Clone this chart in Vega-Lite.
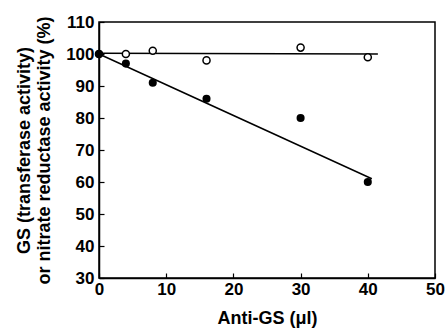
{
  "$schema": "https://vega.github.io/schema/vega-lite/v6.json",
  "autosize": "none",
  "width": 336,
  "height": 256,
  "padding": {"left": 99, "top": 22, "right": 13, "bottom": 52},
  "background": "white",
  "config": {
    "font": "Liberation Sans",
    "view": {"stroke": "black", "strokeWidth": 1.5}
  },
  "data": {
    "values": [
      {"x": 0, "y": 100, "s": "open", "k": "pt"},
      {"x": 4, "y": 100, "s": "open", "k": "pt"},
      {"x": 8, "y": 101, "s": "open", "k": "pt"},
      {"x": 16, "y": 98, "s": "open", "k": "pt"},
      {"x": 30, "y": 102, "s": "open", "k": "pt"},
      {"x": 40, "y": 99, "s": "open", "k": "pt"},
      {"x": 0, "y": 100, "s": "filled", "k": "pt"},
      {"x": 4, "y": 97, "s": "filled", "k": "pt"},
      {"x": 8, "y": 91, "s": "filled", "k": "pt"},
      {"x": 16, "y": 86, "s": "filled", "k": "pt"},
      {"x": 30, "y": 80, "s": "filled", "k": "pt"},
      {"x": 40, "y": 60, "s": "filled", "k": "pt"},
      {"x": 0, "y": 100.2, "s": "open", "k": "fit"},
      {"x": 41.5, "y": 100, "s": "open", "k": "fit"},
      {"x": 0, "y": 100, "s": "filled", "k": "fit"},
      {"x": 40.6, "y": 61, "s": "filled", "k": "fit"}
    ]
  },
  "encoding": {
    "x": {"field": "x", "type": "quantitative", "scale": {"domain": [0, 50], "nice": false},
          "axis": {"values": [0, 10, 20, 30, 40, 50], "title": "Anti-GS (μl)",
                   "labelOverlap": false, "labelFlush": false, "labelPadding": 8, "titlePadding": 12,
                   "domainColor": "black", "domainWidth": 1.5, "tickColor": "black", "tickWidth": 1.2, "tickSize": -5, "grid": false,
                   "labelFont": "Liberation Sans", "labelFontWeight": "bold", "labelFontSize": 17, "labelColor": "black",
                   "titleFont": "Liberation Sans", "titleFontWeight": "bold", "titleFontSize": 18, "titleColor": "black"}},
    "y": {"field": "y", "type": "quantitative", "scale": {"domain": [30, 110], "nice": false, "zero": false},
          "axis": {"values": [30, 40, 50, 60, 70, 80, 90, 100, 110], "title": ["GS (transferase activity)", "or nitrate reductase activity (%)"],
                   "labelOverlap": false, "labelFlush": false, "labelPadding": 10, "titlePadding": 12, "titleLineHeight": 20, "titleLimit": 400,
                   "domainColor": "black", "domainWidth": 1.5, "tickColor": "black", "tickWidth": 1.2, "tickSize": -5, "grid": false,
                   "labelFont": "Liberation Sans", "labelFontWeight": "bold", "labelFontSize": 17, "labelColor": "black",
                   "titleFont": "Liberation Sans", "titleFontWeight": "bold", "titleFontSize": 18, "titleColor": "black"}}
  },
  "layer": [
    {
      "transform": [{"filter": "datum.k == 'fit'"}],
      "mark": {"type": "line", "color": "black", "strokeWidth": 1.5},
      "encoding": {"detail": {"field": "s"}}
    },
    {
      "transform": [{"filter": "datum.k == 'pt' && datum.s == 'open'"}],
      "mark": {"type": "point", "shape": "circle", "filled": true, "fill": "white", "stroke": "black", "strokeWidth": 1.5, "size": 50, "opacity": 1}
    },
    {
      "transform": [{"filter": "datum.k == 'pt' && datum.s == 'filled'"}],
      "mark": {"type": "point", "shape": "circle", "filled": true, "color": "black", "size": 65, "opacity": 1}
    }
  ]
}
